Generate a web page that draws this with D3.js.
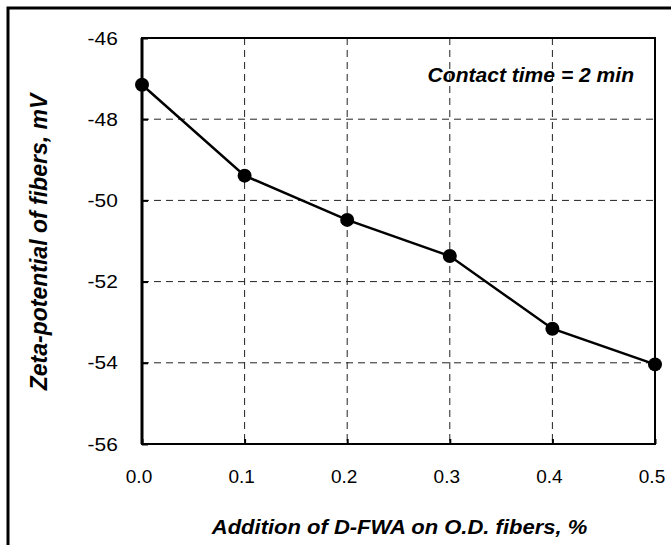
<!DOCTYPE html>
<html>
<head>
<meta charset="utf-8">
<script src="https://cdn.jsdelivr.net/npm/d3@7"></script>
<style>
  body { margin: 0; background: #fff; }
  svg { display: block; font-family: "Liberation Sans", Arial, sans-serif; }
</style>
</head>
<body>
<svg width="671" height="545"></svg>
<script>
let additions = [0.0, 0.1, 0.2, 0.3, 0.4, 0.5];
let zeta = [-47.15, -49.39, -50.48, -51.37, -53.16, -54.04];
let xTicks = [0.0, 0.1, 0.2, 0.3, 0.4, 0.5];
let yTicks = [-56, -54, -52, -50, -48, -46];

let svg = d3.select("svg");

// outer frame (right and bottom fall outside the picture)
svg.append("rect")
    .attr("x", 8).attr("y", 8)
    .attr("width", 700).attr("height", 600)
    .attr("fill", "none")
    .attr("stroke", "#000")
    .attr("stroke-width", 3);

let plotLeft = 142, plotRight = 655, plotTop = 38, plotBottom = 444;

let x = d3.scaleLinear().domain([0, 0.5]).range([plotLeft, plotRight]);
let y = d3.scaleLinear().domain([-56, -46]).range([plotBottom, plotTop]);

let g = svg.append("g");

// grid
g.selectAll(".vgrid")
    .data(xTicks.slice(1, -1))
    .join("line")
    .attr("x1", function (d) { return x(d); })
    .attr("x2", function (d) { return x(d); })
    .attr("y1", plotTop).attr("y2", plotBottom)
    .attr("stroke", "#222").attr("stroke-width", 1)
    .attr("stroke-dasharray", "7,5");

g.selectAll(".hgrid")
    .data(yTicks.slice(1, -1))
    .join("line")
    .attr("x1", plotLeft).attr("x2", plotRight)
    .attr("y1", function (d) { return y(d); })
    .attr("y2", function (d) { return y(d); })
    .attr("stroke", "#222").attr("stroke-width", 1)
    .attr("stroke-dasharray", "7,5");

// plot border
g.append("rect")
    .attr("x", plotLeft).attr("y", plotTop)
    .attr("width", plotRight - plotLeft).attr("height", plotBottom - plotTop)
    .attr("fill", "none")
    .attr("stroke", "#000").attr("stroke-width", 2);
g.append("line")
    .attr("x1", plotLeft).attr("x2", plotLeft)
    .attr("y1", plotTop).attr("y2", plotBottom)
    .attr("stroke", "#000").attr("stroke-width", 3);

// axes with inward ticks
let xAxis = d3.axisBottom(x).tickValues(xTicks).tickSize(-5).tickPadding(25.5)
    .tickFormat(d3.format(".1f"));
let yAxis = d3.axisLeft(y).tickValues(yTicks).tickSize(-6).tickPadding(22)
    .tickFormat(function (d) { return d; });

let xg = g.append("g").attr("transform", "translate(0," + plotBottom + ")").call(xAxis);
let yg = g.append("g").attr("transform", "translate(" + plotLeft + ",0)").call(yAxis);

[xg, yg].forEach(function (a) {
    a.select(".domain").remove();
    a.selectAll(".tick line").attr("stroke", "#000").attr("stroke-width", 2);
    a.selectAll(".tick text")
        .attr("fill", "#000")
        .style("font-size", "19px")
        .style("font-family", "Liberation Sans, Arial, sans-serif");
});
xg.selectAll(".tick text").attr("dx", -3.5);
yg.selectAll(".tick text").attr("transform", "scale(1.1,1)");

// line and markers
let line = d3.line()
    .x(function (d, i) { return x(additions[i]); })
    .y(function (d) { return y(d); });

g.append("path")
    .datum(zeta)
    .attr("d", line)
    .attr("fill", "none")
    .attr("stroke", "#000")
    .attr("stroke-width", 2.5);

g.selectAll(".pt")
    .data(zeta)
    .join("circle")
    .attr("cx", function (d, i) { return x(additions[i]); })
    .attr("cy", function (d) { return y(d); })
    .attr("r", 7)
    .attr("fill", "#000");

// titles
svg.append("text")
    .attr("transform", "translate(" + ((plotLeft + plotRight) / 2 + 1) + ",534) scale(1.1,1)")
    .attr("text-anchor", "middle")
    .style("font-size", "20px")
    .style("font-weight", "bold")
    .style("font-style", "italic")
    .text("Addition of D-FWA on O.D. fibers, %");

svg.append("text")
    .attr("transform", "translate(47,242) rotate(-90)")
    .attr("text-anchor", "middle")
    .style("font-size", "23px")
    .style("font-weight", "bold")
    .style("font-style", "italic")
    .text("Zeta-potential of fibers, mV");

svg.append("text")
    .attr("transform", "translate(634,82) scale(1.08,1)")
    .attr("text-anchor", "end")
    .style("font-size", "19.5px")
    .style("font-weight", "bold")
    .style("font-style", "italic")
    .text("Contact time = 2 min");
</script>
</body>
</html>
